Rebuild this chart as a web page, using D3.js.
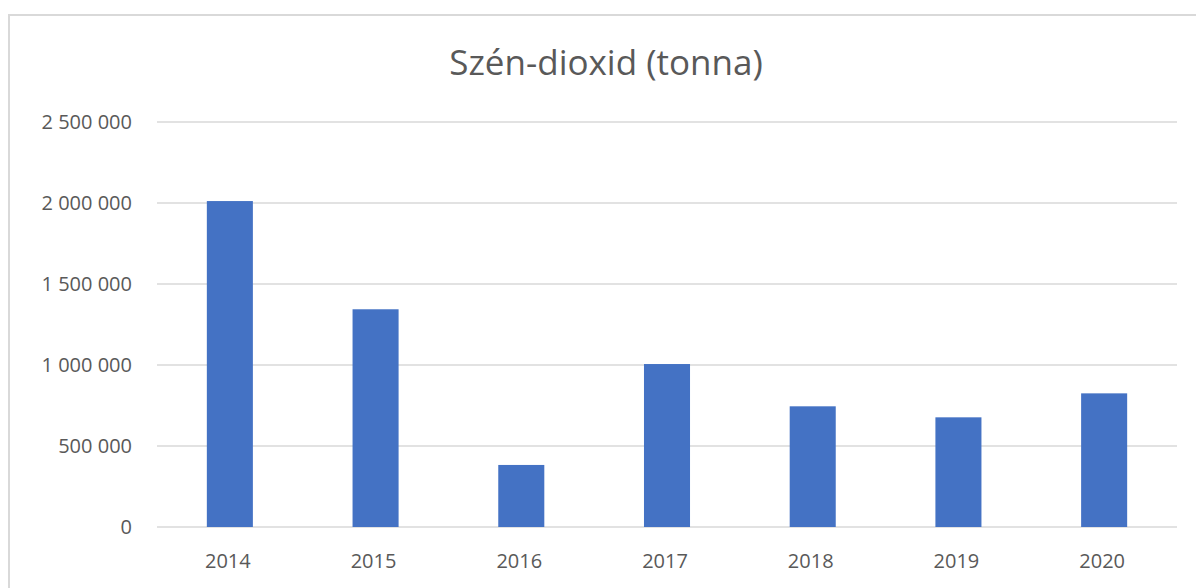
<!DOCTYPE html>
<html>
<head>
<meta charset="utf-8">
<script src="https://cdn.jsdelivr.net/npm/d3@7"></script>
<style>
  html, body { margin: 0; padding: 0; background: #fff; }
  svg { display: block; font-family: "Open Sans", sans-serif; }
</style>
</head>
<body>
<div id="chart"></div>
<script>
const years = ["2014", "2015", "2016", "2017", "2018", "2019", "2020"]
const co2 = [2012000, 1344000, 383000, 1006000, 745000, 677000, 825000]
const yTicks = [0, 500000, 1000000, 1500000, 2000000, 2500000]
const title = "Szén-dioxid (tonna)"

const width = 1196, height = 588
const plot = { left: 157, right: 1177, top: 122, bottom: 527 }

const svg = d3.select("#chart").append("svg")
  .attr("width", width).attr("height", height)

// chart frame (runs past right/bottom edge of the picture)
svg.append("rect").attr("x", 9).attr("y", 15).attr("width", 1300).attr("height", 700)
  .attr("fill", "none").attr("stroke", "#d9d9d9").attr("stroke-width", 2)

const x = d3.scaleBand().domain(years).range([plot.left, plot.right])
  .paddingInner(0.684).paddingOuter(0.342)
const y = d3.scaleLinear().domain([0, 2500000]).range([plot.bottom, plot.top])

const fmt = v => d3.format(",")(v).replace(/,/g, " ")

// gridlines
svg.append("g").selectAll("line").data(yTicks).join("line")
  .attr("x1", plot.left).attr("x2", plot.right)
  .attr("y1", d => y(d)).attr("y2", d => y(d))
  .attr("stroke", "#d9d9d9").attr("stroke-width", 1.5)

// y labels
svg.append("g").selectAll("text").data(yTicks).join("text")
  .attr("x", 132).attr("y", d => y(d)).attr("dy", "0.35em")
  .attr("text-anchor", "end").attr("font-size", 20).attr("fill", "#595959")
  .text(d => fmt(d))

// bars
svg.append("g").selectAll("rect").data(years).join("rect")
  .attr("x", d => x(d)).attr("width", x.bandwidth())
  .attr("y", (d, i) => y(co2[i])).attr("height", (d, i) => y(0) - y(co2[i]))
  .attr("fill", "#4472c4")

// x labels
svg.append("g").selectAll("text").data(years).join("text")
  .attr("x", d => x(d) + x.bandwidth() / 2 - 2).attr("y", 568)
  .attr("text-anchor", "middle").attr("font-size", 20).attr("fill", "#595959")
  .text(d => d)

svg.append("text").attr("x", 606).attr("y", 75)
  .attr("text-anchor", "middle").attr("font-size", 35).attr("fill", "#595959")
  .text(title)
</script>
</body>
</html>
